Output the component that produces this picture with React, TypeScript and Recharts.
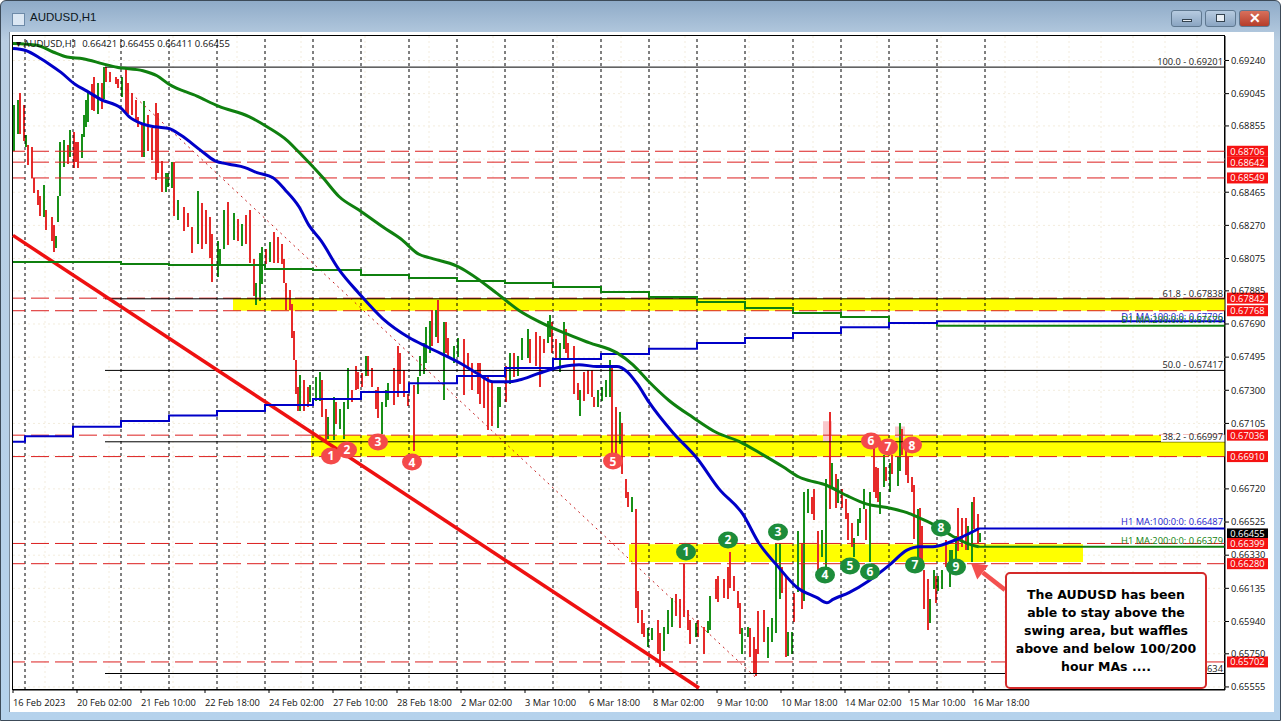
import { Bar, CartesianGrid, ComposedChart, Line, ReferenceArea, ReferenceLine, Scatter, XAxis, YAxis } from 'recharts';

const LAST_BAR = 606;

// bar number on the x axis (one bar = 2px on the MT4 chart), high, low, direction
const barIndex = [
  0, 2, 3, 5, 6, 7, 9, 10, 12, 13,
  15, 16, 19, 20, 21, 22, 23, 25, 27, 28,
  30, 31, 32, 34, 35, 36, 37, 39, 40, 42,
  44, 45, 46, 48, 51, 52, 54, 56, 57, 59,
  61, 62, 64, 65, 67, 69, 71, 72, 74, 76,
  77, 79, 80, 82, 85, 87, 89, 92, 94, 96,
  98, 99, 102, 103, 105, 107, 110, 112, 114, 116,
  118, 120, 121, 123, 124, 126, 128, 130, 132, 134,
  135, 136, 138, 139, 140, 141, 142, 143, 145, 147,
  148, 151, 153, 154, 156, 157, 160, 161, 163, 165,
  167, 169, 171, 172, 174, 176, 177, 179, 181, 182,
  184, 186, 187, 190, 192, 193, 195, 197, 200, 202,
  203, 205, 206, 208, 209, 211, 212, 215, 216, 217,
  220, 222, 225, 227, 229, 232, 233, 235, 237, 239,
  242, 243, 246, 248, 250, 252, 254, 257, 258, 261,
  263, 265, 267, 268, 269, 271, 273, 275, 276, 277,
  280, 282, 283, 285, 287, 289, 290, 292, 294, 296,
  298, 299, 301, 303, 304, 306, 307, 309, 311, 312,
  314, 315, 317, 319, 322, 323, 325, 327, 329, 331,
  333, 335, 337, 338, 341, 342, 345, 347, 348, 351,
  352, 355, 357, 358, 360, 362, 363, 364, 367, 368,
  370, 371, 372, 375, 377, 379, 381, 383, 384, 386,
  387, 389, 390, 392, 394, 395, 397, 399, 400, 402,
  404, 406, 408, 409, 411, 412, 414, 416, 417, 419,
  420, 422, 423, 425, 426, 428, 430, 431, 432, 433,
  435, 436, 438, 439, 442, 443, 444, 446, 447, 449,
  450, 452, 453, 454, 455, 457, 458, 460, 461, 462,
  464, 466, 468, 469, 471, 472, 474, 476, 477, 479,
  480, 482, 483,
];
const highs = [
  .6898, .6901, .6905, .6898, .6880, .6874, .6873, .6855, .6848, .6844,
  .6851, .6836, .6832, .6827, .6821, .6844, .6876, .6877, .6874, .6883,
  .6882, .6876, .6876, .6881, .6892, .6901, .6906, .6910, .6914, .6911,
  .6911, .6920, .6920, .6917, .6914, .6913, .6914, .6919, .6911, .6905,
  .6901, .6891, .6887, .6900, .6892, .6884, .6899, .6893, .6865, .6858,
  .6858, .6864, .6864, .6842, .6838, .6834, .6826, .6847, .6840, .6836,
  .6832, .6822, .6818, .6813, .6836, .6841, .6834, .6831, .6828, .6833,
  .6836, .6807, .6793, .6811, .6814, .6813, .6817, .6823, .6820, .6816,
  .6807, .6793, .6789, .6781, .6765, .6748, .6732, .6739, .6736, .6732,
  .6733, .6738, .6741, .6736, .6719, .6714, .6726, .6723, .6719, .6723,
  .6743, .6730, .6744, .6741, .6740, .6750, .6750, .6743, .6730, .6732,
  .6723, .6730, .6734, .6743, .6756, .6752, .6742, .6728, .6733, .6738,
  .6750, .6758, .6767, .6771, .6777, .6777, .6783, .6770, .6770, .6761,
  .6756, .6761, .6760, .6752, .6746, .6746, .6746, .6738, .6738, .6734,
  .6732, .6732, .6744, .6752, .6752, .6750, .6761, .6766, .6760, .6764,
  .6762, .6760, .6771, .6774, .6770, .6760, .6758, .6770, .6766, .6758,
  .6756, .6734, .6730, .6741, .6742, .6742, .6726, .6730, .6732, .6736,
  .6748, .6743, .6720, .6717, .6711, .6678, .6670, .6667, .6660, .6612,
  .6601, .6593, .6590, .6590, .6595, .6587, .6591, .6601, .6608, .6610,
  .6607, .6628, .6601, .6595, .6593, .6595, .6591, .6594, .6609, .6619,
  .6621, .6619, .6626, .6635, .6621, .6612, .6605, .6590, .6591, .6590,
  .6585, .6578, .6600, .6601, .6591, .6596, .6640, .6640, .6626, .6620,
  .6588, .6588, .6611, .6647, .6640, .6670, .6672, .6667, .6672, .6647,
  .6648, .6678, .6717, .6687, .6681, .6678, .6672, .6666, .6658, .6652,
  .6643, .6654, .6661, .6672, .6660, .6670, .6697, .6685, .6684, .6670,
  .6692, .6685, .6687, .6692, .6691, .6711, .6707, .6694, .6691, .6679,
  .6674, .6660, .6661, .6650, .6624, .6619, .6607, .6624, .6621, .6621,
  .6624, .6642, .6636, .6636, .6644, .6661, .6655, .6655, .6650, .6664,
  .6667, .6657, .6646,
];
const lows = [
  .6871, .6881, .6881, .6877, .6873, .6862, .6855, .6846, .6839, .6832,
  .6832, .6824, .6818, .6811, .6814, .6829, .6844, .6861, .6863, .6867,
  .6861, .6864, .6861, .6867, .6879, .6885, .6888, .6895, .6894, .6893,
  .6896, .6901, .6911, .6911, .6910, .6908, .6902, .6893, .6893, .6892,
  .6889, .6885, .6867, .6867, .6871, .6865, .6854, .6858, .6847, .6847,
  .6850, .6849, .6832, .6830, .6824, .6826, .6811, .6816, .6813, .6816,
  .6808, .6794, .6797, .6804, .6813, .6816, .6818, .6818, .6815, .6816,
  .6805, .6785, .6780, .6783, .6792, .6804, .6805, .6805, .6805, .6804,
  .6793, .6777, .6777, .6761, .6748, .6728, .6718, .6718, .6718, .6720,
  .6723, .6724, .6724, .6714, .6701, .6701, .6701, .6710, .6707, .6701,
  .6719, .6723, .6730, .6731, .6732, .6738, .6738, .6732, .6719, .6714,
  .6704, .6720, .6724, .6721, .6726, .6734, .6726, .6721, .6694, .6728,
  .6738, .6740, .6746, .6752, .6756, .6761, .6758, .6724, .6752, .6750,
  .6746, .6750, .6727, .6744, .6730, .6728, .6722, .6720, .6707, .6709,
  .6708, .6720, .6723, .6734, .6738, .6738, .6748, .6749, .6746, .6744,
  .6732, .6752, .6758, .6761, .6752, .6748, .6741, .6754, .6752, .6748,
  .6728, .6724, .6715, .6724, .6728, .6726, .6720, .6720, .6724, .6726,
  .6726, .6693, .6691, .6698, .6681, .6667, .6661, .6658, .6602, .6593,
  .6587, .6585, .6579, .6583, .6575, .6567, .6577, .6587, .6591, .6597,
  .6590, .6597, .6589, .6581, .6585, .6585, .6575, .6587, .6589, .6607,
  .6606, .6608, .6607, .6614, .6612, .6602, .6587, .6575, .6585, .6573,
  .6564, .6562, .6575, .6582, .6573, .6582, .6587, .6607, .6611, .6573,
  .6574, .6575, .6594, .6611, .6601, .6606, .6658, .6657, .6654, .6623,
  .6632, .6626, .6660, .6672, .6661, .6664, .6661, .6654, .6642, .6638,
  .6632, .6644, .6652, .6660, .6642, .6629, .6670, .6667, .6664, .6657,
  .6673, .6677, .6670, .6681, .6674, .6683, .6692, .6680, .6676, .6670,
  .6642, .6630, .6630, .6630, .6601, .6589, .6593, .6613, .6605, .6612,
  .6613, .6626, .6614, .6626, .6630, .6636, .6638, .6636, .6636, .6629,
  .6648, .6640, .6641,
];
// one letter per bar: u = green bar, d = red bar
const barDirections = [
  'uuddudddddd'.slice(0, 10),
  'uddduuuudu',
  'ddduuuuddu',
  'dudddduddd',
  'dddudddddu',
  'uududddudd',
  'dduuududud',
  'dduuududdd',
  'dddddddudd',
  'uuudduuduu',
  'uddddudddd',
  'uuuddddddu',
  'uuuudududd',
  'uudddddddd',
  'uududuuudd',
  'dduudduudd',
  'ddudddduuu',
  'uddudddudd',
  'dduudduuud',
  'ddddudduud',
  'ddddddduud',
  'dddduuuudd',
  'uududuuddd',
  'uudududddd',
  'uuuududddu',
  'ududuudddd',
  'dudddduudu',
  'uduuuddduu',
  'ddu',
].join('');

const ma100Bars = [0, 6, 14, 18, 24, 31, 37, 44, 54, 58, 64, 71, 78, 84, 94, 101, 108, 116, 122, 130, 136, 143, 148, 154, 163, 173, 185, 198, 208, 225, 232, 240, 248, 253, 263, 275, 283, 292, 302, 307, 312, 318, 330, 342, 353, 365, 373, 382, 392, 402, 407, 410, 418, 428, 438, 447, 453, 460, 467, 475, 483];
const ma100Values = [.6931, .6930, .6925, .6922, .6917, .6910, .6906, .6901, .6896, .6891, .6887, .6885, .6884, .6880, .6871, .6865, .6863, .6861, .6858, .6855, .6848, .6838, .6827, .6818, .6801, .6787, .6772, .6761, .6755, .6745, .6740, .6735, .6735, .6736, .6740, .6744, .6745, .6744, .6744, .6741, .6734, .6723, .6705, .6690, .6672, .6657, .6640, .6627, .6614, .6608, .6605, .6607, .6611, .6618, .6627, .6636, .6638, .6638, .6640, .6644, .66487];

const ma200Bars = [0, 12, 20, 27, 35, 45, 52, 65, 72, 78, 92, 103, 118, 127, 137, 143, 155, 163, 173, 185, 194, 203, 208, 222, 228, 242, 253, 262, 275, 288, 302, 310, 318, 328, 340, 352, 363, 375, 385, 393, 395, 407, 417, 427, 437, 447, 453, 462, 470, 477, 483];
const ma200Values = [.6934, .6933, .6929, .6926, .6925, .6922, .6920, .6918, .6915, .6910, .6903, .6897, .6891, .6885, .6877, .6870, .6855, .6844, .6836, .6826, .6819, .6810, .6808, .6803, .6799, .6787, .6777, .6771, .6764, .6758, .6752, .6745, .6735, .6724, .6714, .6705, .6700, .6692, .6685, .6679, .6678, .6674, .6668, .6663, .6661, .6658, .6655, .6650, .6644, .6640, .66379];

const d1BlueBars = [0, 6, 30, 54, 78, 102, 126, 150, 174, 198, 222, 246, 270, 294, 318, 342, 366, 390, 414, 438, 462, 606];
const d1BlueValues = [.66998, .67029, .67086, .67119, .67151, .67178, .67214, .67249, .6729, .67341, .67384, .67431, .67484, .67514, .67545, .67578, .67608, .67637, .67671, .67696, .67706, .67706];

const d1GreenBars = [0, 54, 78, 126, 150, 174, 198, 222, 246, 270, 294, 318, 342, 366, 390, 414, 438, 462, 606];
const d1GreenValues = [.68055, .68043, .68037, .68014, .68008, .67978, .67961, .67943, .67931, .67908, .67878, .67849, .67819, .67784, .67755, .67731, .67696, .67679, .67679];

const priceTicks = [.6924, .69045, .68855, .68465, .6827, .68075, .67885, .6769, .67495, .673, .67105, .6672, .66525, .6633, .66135, .6594, .6575, .65555];
const gridPrices = [.6924, .69045, .68855, .6866, .68465, .6827, .68075, .67885, .6769, .67495, .673, .67105, .66915, .6672, .66525, .6633, .66135, .6594, .6575, .65555];
const timeTicks = [0, 32, 64, 96, 128, 160, 192, 224, 256, 288, 320, 352, 384, 416, 448, 480];
const timeLabels = ['16 Feb 2023', '20 Feb 02:00', '21 Feb 10:00', '22 Feb 18:00', '24 Feb 02:00', '27 Feb 10:00', '28 Feb 18:00', '2 Mar 02:00', '3 Mar 10:00', '6 Mar 18:00', '8 Mar 02:00', '9 Mar 10:00', '10 Mar 18:00', '14 Mar 02:00', '15 Mar 10:00', '16 Mar 18:00'];
const daySeparators = [6, 30, 54, 78, 102, 126, 150, 174, 198, 222, 246, 270, 294, 318, 342, 366, 390, 414, 438, 462, 486];
const gridBars = [16, 48, 80, 112, 144, 176, 208, 240, 272, 304, 336, 368, 400, 432, 464, 496, 512, 528, 544, 560, 576, 592];

const swingLevels = [.68706, .68642, .68549, .67842, .67768, .67036, .6691, .66399, .6628, .65702];
const fibLevels = [.69201, .67838, .67417, .66997, .65634];
const fibNames = ['100.0', '61.8', '50.0', '38.2', '0.0'];

const redMarkBars = [159, 167, 182.5, 199.5, 300, 429, 437.5, 449.5];
const redMarkPrices = [.66914, .66949, .66996, .66878, .66884, .67002, .66967, .66978];
const greenMarkBars = [336.5, 357.5, 382.5, 406, 418.5, 428.5, 451, 464, 471.5];
const greenMarkPrices = [.66349, .6642, .66467, .66214, .66267, .66232, .66273, .6649, .66261];

const note = ['The AUDUSD has been', 'able to stay above the', 'swing area, but waffles', 'above and below 100/200', 'hour MAs ....'];

const GREEN = '#0f800f';
const RED = '#dc1f1f';
const BLUE = '#0000c8';
const FONT = '"Open Sans", sans-serif';

const candles = barIndex.map((i, k) => ({ i, range: [lows[k], highs[k]], dir: barDirections[k] }));
const toSeries = (bars: number[], values: number[]) => bars.map((i, k) => ({ i, v: values[k] }));
const toMarks = (bars: number[], prices: number[]) => bars.map((i, k) => ({ i, v: prices[k], n: k + 1 }));

// hi-lo bar snapped to the pixel grid
const barShape = (props: any) => (
  <rect
    x={Math.round(props.x)}
    y={Math.round(props.y)}
    width={2}
    height={Math.round(props.height)}
    fill={props.payload.dir === 'u' ? '#189018' : '#e62a2a'}
    shapeRendering="crispEdges"
  />
);

const priceTag = (value: number, bg: string) => (props: any) => {
  const vb = props.viewBox;
  return (
    <g>
      <rect x={vb.x + vb.width + 2} y={vb.y - 5.5} width={41} height={11} fill={bg} />
      <text x={vb.x + vb.width + 22.5} y={vb.y + 3.5} textAnchor="middle" fill="#fff" fontSize={9.3} fontFamily={FONT}>
        {value.toFixed(5)}
      </text>
    </g>
  );
};

const lineNote = (text: string, color: string, dy = -2, blank = 0) => (props: any) => {
  const vb = props.viewBox;
  const right = vb.x + vb.width - 2;
  return (
    <g>
      {blank > 0 && <rect x={right - blank} y={vb.y - 7} width={blank + 2} height={7} fill="#fff" />}
      <text x={right} y={vb.y + dy} textAnchor="end" fill={color} fontSize={9.3} fontFamily={FONT}>
        {text}
      </text>
    </g>
  );
};

const markShape = (fill: string) => (props: any) => (
  <g>
    <ellipse cx={props.cx} cy={props.cy} rx={10} ry={8.5} fill={fill} />
    <text x={props.cx} y={props.cy + 4.5} textAnchor="middle" fill="#fff" fontSize={12} fontWeight="bold" fontFamily={FONT}>
      {props.payload.n}
    </text>
  </g>
);

const arrowShape = (props: any) => {
  const { x1, y1, x2, y2 } = props;
  const len = Math.hypot(x2 - x1, y2 - y1);
  const ux = (x2 - x1) / len;
  const uy = (y2 - y1) / len;
  const bx = x2 - ux * 15;
  const by = y2 - uy * 15;
  return (
    <g>
      <line x1={x1} y1={y1} x2={bx} y2={by} stroke="#f4504f" strokeWidth={4.5} />
      <polygon points={`${x2},${y2} ${bx - uy * 9},${by + ux * 9} ${bx + uy * 9},${by - ux * 9}`} fill="#f4504f" />
    </g>
  );
};

const timeTick = (props: any) => (
  <text x={props.x} y={props.y + 11} textAnchor="start" fontSize={9.3} fontFamily={FONT} fill="#111">
    {timeLabels[timeTicks.indexOf(props.payload.value)]}
  </text>
);

function WindowFrame() {
  const btn = (left: number, bg: string) => ({
    position: 'absolute' as const,
    left,
    top: 10,
    width: 31,
    height: 17,
    borderRadius: 3,
    border: '1px solid #5f7890',
    boxSizing: 'border-box' as const,
    background: bg,
  });
  return (
    <>
      <div style={{ position: 'absolute', inset: 0, background: 'linear-gradient(#8fabc8, #b9cee2 40px, #b5d2ec)', borderRadius: '6px 6px 0 0', border: '1px solid #3c4a58', boxSizing: 'border-box' }} />
      <div style={{ position: 'absolute', left: 9, top: 32, width: 1264, height: 680, background: '#fff', borderLeft: '1px solid #7b8a99' }} />
      <div style={{ position: 'absolute', left: 12, top: 35, width: 1213, height: 655, boxSizing: 'border-box', border: '1px solid #000', background: '#fff' }} />
      <div style={{ position: 'absolute', left: 12, top: 13, width: 13, height: 13, border: '1px solid #6d8aa8', background: '#dbe7f3', boxSizing: 'border-box' }} />
      <div style={{ position: 'absolute', left: 30, top: 11, fontFamily: '"Liberation Sans", sans-serif', fontSize: 11.5, color: '#0b1620' }}>AUDUSD,H1</div>
      <div style={btn(1171, 'linear-gradient(#b7cbe0, #8aa5c2)')}>
        <div style={{ position: 'absolute', left: 10, top: 8, width: 10, height: 3, background: '#e8eef4', border: '1px solid #33424f', boxSizing: 'border-box' }} />
      </div>
      <div style={btn(1205, 'linear-gradient(#b7cbe0, #8aa5c2)')}>
        <div style={{ position: 'absolute', left: 10, top: 3, width: 9, height: 8, background: '#e8eef4', border: '1px solid #33424f', boxSizing: 'border-box' }} />
      </div>
      <div style={{ ...btn(1239, 'linear-gradient(#d8705c, #b53d2a)'), color: '#fff', fontFamily: '"Liberation Sans", sans-serif', fontWeight: 700, fontSize: 14, lineHeight: '15px', textAlign: 'center' }}>✕</div>
    </>
  );
}

export default function App() {
  return (
    <div style={{ position: 'relative', width: 1281, height: 721, overflow: 'hidden' }}>
      <style>{'body{margin:0}'}</style>
      <WindowFrame />
      <div style={{ position: 'absolute', left: 0, top: 0 }}>
        <ComposedChart width={1281} height={721} data={candles} margin={{ top: 36, right: 10, bottom: 11, left: 13 }}>
          <CartesianGrid stroke="#f3ecdd" strokeDasharray="2 3" horizontalValues={gridPrices} verticalValues={gridBars} />
          <XAxis
            type="number"
            dataKey="i"
            domain={[0, LAST_BAR]}
            ticks={timeTicks}
            interval={0}
            height={20}
            tick={timeTick}
            tickSize={3}
            stroke="#000"
            allowDataOverflow
          />
          <YAxis
            orientation="right"
            type="number"
            domain={[.65537, .69384]}
            ticks={priceTicks}
            interval={0}
            width={46}
            tickFormatter={(v: number) => v.toFixed(5)}
            tick={{ fontSize: 9.3, fontFamily: FONT, fill: '#111' }}
            tickSize={4}
            tickMargin={2}
            stroke="#000"
            allowDataOverflow
          />

          <ReferenceArea x1={110} x2={LAST_BAR} y1={.67768} y2={.67842} fill="#ffff00" fillOpacity={1} stroke="none" />
          <ReferenceArea x1={149} x2={LAST_BAR} y1={.6691} y2={.67036} fill="#ffff00" fillOpacity={1} stroke="none" />
          <ReferenceArea x1={308} x2={535} y1={.6629} y2={.66395} fill="#ffff00" fillOpacity={1} stroke="none" />
          <ReferenceArea x1={405} x2={409.5} y1={.67} y2={.67118} fill="#f9c8cc" fillOpacity={1} stroke="none" />
          <ReferenceArea x1={441} x2={446} y1={.67022} y2={.67087} fill="#f9c8cc" fillOpacity={1} stroke="none" />

          {daySeparators.map((i) => (
            <ReferenceLine key={i} x={i} stroke="#000" strokeDasharray="3 3" />
          ))}

          <Bar dataKey="range" barSize={1} shape={barShape} isAnimationActive={false} />

          {swingLevels.map((v) => (
            <ReferenceLine key={v} y={v} stroke={RED} strokeDasharray="18 6" label={priceTag(v, '#f51212')} />
          ))}
          <ReferenceLine y={.66455} stroke="none" label={priceTag(.66455, '#000')} />
          {swingLevels.slice(7, 8).map((v) => (
            <ReferenceLine key={v} y={v} stroke="none" label={priceTag(v, '#f51212')} />
          ))}

          {fibLevels.map((v, k) => (
            <ReferenceLine
              key={v}
              segment={[{ x: 46, y: v }, { x: LAST_BAR, y: v }]}
              stroke="#000"
              label={lineNote(`${fibNames[k]} - ${v.toFixed(5)}`, '#222', -2, k === 3 ? 62 : 0)}
            />
          ))}

          <ReferenceLine segment={[{ x: 57, y: .6907 }, { x: 371, y: .65615 }]} stroke="#c62020" strokeDasharray="2 4" />
          <ReferenceLine segment={[{ x: 0, y: .68211 }, { x: 343, y: .65549 }]} stroke="#ee1111" strokeWidth={3.5} />

          <Line data={toSeries(d1GreenBars, d1GreenValues)} dataKey="v" type="stepAfter" stroke={GREEN} strokeWidth={2} dot={false} isAnimationActive={false} />
          <Line data={toSeries(d1BlueBars, d1BlueValues)} dataKey="v" type="stepAfter" stroke={BLUE} strokeWidth={2} dot={false} isAnimationActive={false} />
          <Line data={toSeries(ma200Bars, ma200Values)} dataKey="v" type="monotone" stroke={GREEN} strokeWidth={3} dot={false} isAnimationActive={false} />
          <Line data={toSeries(ma100Bars, ma100Values)} dataKey="v" type="monotone" stroke={BLUE} strokeWidth={3} dot={false} isAnimationActive={false} />

          <ReferenceLine segment={[{ x: 483, y: .66487 }, { x: LAST_BAR, y: .66487 }]} stroke={BLUE} strokeWidth={2} label={lineNote('H1 MA:100:0:0: 0.66487', '#2222cc', -3)} />
          <ReferenceLine segment={[{ x: 483, y: .66379 }, { x: LAST_BAR, y: .66379 }]} stroke={GREEN} strokeWidth={2} label={lineNote('H1 MA:200:0:0: 0.66379', GREEN, -3)} />
          <ReferenceLine segment={[{ x: 462, y: .67706 }, { x: LAST_BAR, y: .67706 }]} stroke="none" label={lineNote('D1 MA:100:0:0: 0.67706', '#2222cc', -1)} />
          <ReferenceLine segment={[{ x: 462, y: .67679 }, { x: LAST_BAR, y: .67679 }]} stroke="none" label={lineNote('D1 MA:200:0:0: 0.67679', GREEN, -3)} />

          <ReferenceLine segment={[{ x: 496, y: .66126 }, { x: 479, y: .66283 }]} stroke="none" shape={arrowShape} />

          <Scatter data={toMarks(redMarkBars, redMarkPrices)} dataKey="v" shape={markShape('#f44a4a')} isAnimationActive={false} />
          <Scatter data={toMarks(greenMarkBars, greenMarkPrices)} dataKey="v" shape={markShape('#1d8c3a')} isAnimationActive={false} />
        </ComposedChart>
      </div>
      <div style={{ position: 'absolute', left: 16, top: 38, fontFamily: FONT, fontSize: 9.5, color: '#111', whiteSpace: 'pre', lineHeight: '12px' }}>
        {'▾ AUDUSD,H1  0.66421 0.66455 0.66411 0.66455'}
      </div>
      <div
        style={{
          position: 'absolute',
          left: 1005,
          top: 572,
          width: 202,
          height: 117,
          boxSizing: 'border-box',
          border: '2px solid #d42a2a',
          borderRadius: 5,
          background: '#fff',
          paddingTop: 12,
          textAlign: 'center',
          fontFamily: '"DejaVu Sans", sans-serif',
          fontWeight: 700,
          fontSize: 12.5,
          lineHeight: '18px',
          color: '#000',
        }}
      >
        {note.map((t) => (
          <div key={t}>{t}</div>
        ))}
      </div>
    </div>
  );
}
